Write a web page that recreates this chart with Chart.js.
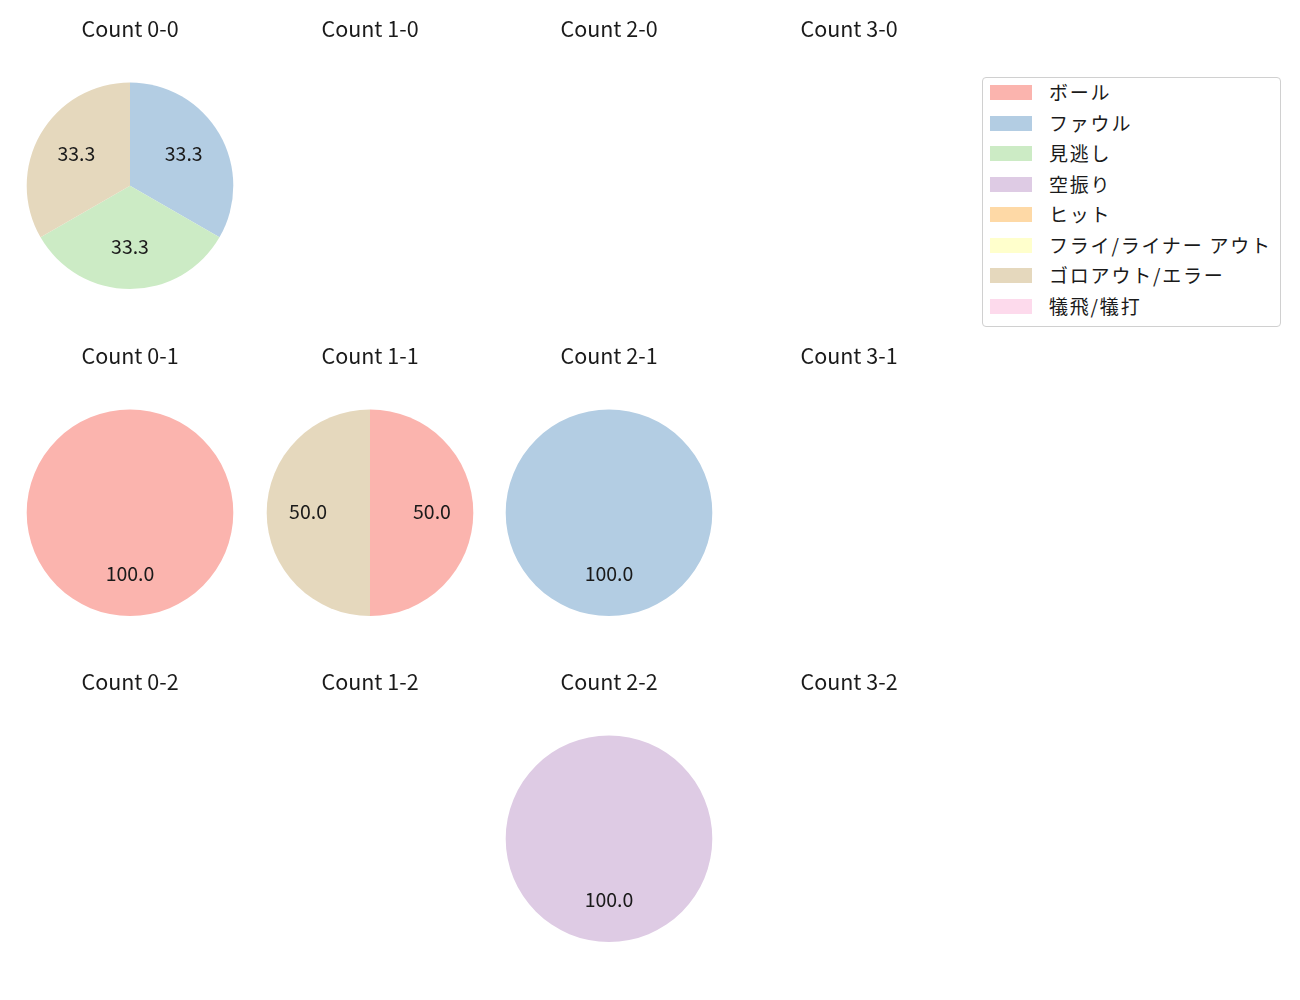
<!DOCTYPE html>
<html><head><meta charset="utf-8">
<script src="https://cdn.jsdelivr.net/npm/chart.js@4"></script>
<style>
body{margin:0;background:#fff;width:1300px;height:1000px;position:relative;overflow:hidden;font-family:"Noto Sans CJK JP","Noto Sans",sans-serif;}
canvas{position:absolute;}
#legend{position:absolute;left:982px;top:77px;width:299px;height:250px;border:1px solid #d0d0d0;border-radius:4px;box-sizing:border-box;}
.row{position:absolute;left:0;height:30px;}
.sw{position:absolute;left:7px;width:42px;height:15px;}
.tx{position:absolute;left:66px;font-size:19px;letter-spacing:1.8px;white-space:nowrap;color:#1a1a1a;line-height:20px;}
</style></head><body>
<div id="legend"></div>
<script>
const categories = ["ボール","ファウル","見逃し","空振り","ヒット","フライ/ライナー アウト","ゴロアウト/エラー","犠飛/犠打"];
const colors = ["#fbb4ae","#b3cde3","#ccebc5","#decbe4","#fed9a6","#ffffcc","#e5d8bd","#fddaec"];
const countTitles = ["Count 0-0","Count 1-0","Count 2-0","Count 3-0","Count 0-1","Count 1-1","Count 2-1","Count 3-1","Count 0-2","Count 1-2","Count 2-2","Count 3-2"];
const count00 = [0,1,1,0,0,0,1,0];
const count10 = [0,0,0,0,0,0,0,0];
const count20 = [0,0,0,0,0,0,0,0];
const count30 = [0,0,0,0,0,0,0,0];
const count01 = [1,0,0,0,0,0,0,0];
const count11 = [1,0,0,0,0,0,1,0];
const count21 = [0,1,0,0,0,0,0,0];
const count31 = [0,0,0,0,0,0,0,0];
const count02 = [0,0,0,0,0,0,0,0];
const count12 = [0,0,0,0,0,0,0,0];
const count22 = [0,0,0,1,0,0,0,0];
const count32 = [0,0,0,0,0,0,0,0];
const allCounts = [count00,count10,count20,count30,count01,count11,count21,count31,count02,count12,count22,count32];

const FONT = '"Noto Sans CJK JP","Noto Sans",sans-serif';

const pctLabels = {
  id:'pctLabels',
  afterDatasetsDraw(chart){
    const ctx = chart.ctx;
    const meta = chart.getDatasetMeta(0);
    const data = chart.data.datasets[0].data;
    const total = data.reduce((a,b)=>a+b,0);
    if(!total) return;
    ctx.save();
    ctx.font = '19.5px ' + FONT;
    ctx.fillStyle = '#1a1a1a';
    ctx.textAlign = 'center';
    ctx.textBaseline = 'middle';
    meta.data.forEach((arc,i)=>{
      if(!data[i]) return;
      const p = arc.getProps(['x','y','startAngle','endAngle','outerRadius'],true);
      const mid = (p.startAngle+p.endAngle)/2;
      const r = p.outerRadius*0.6;
      ctx.fillText((data[i]/total*100).toFixed(1), p.x + Math.cos(mid)*r, p.y + Math.sin(mid)*r - 1.5);
    });
    ctx.restore();
  }
};

const TSIZE = 21.5, LH = 1.2;
const lineH = TSIZE*LH;
const colX = [130, 369.5, 609, 849];
const rowTitleY = [29, 355.5, 682];
allCounts.forEach((vals, idx)=>{
  const c = idx % 4, r = Math.floor(idx/4);
  const cv = document.createElement('canvas');
  const W = 240;
  const pb = 186 - 29 - 103.5 - lineH/2;
  const H = Math.round(lineH + pb + 207);
  cv.width = W; cv.height = H;
  cv.style.left = (colX[c] - W/2) + 'px';
  cv.style.top = (rowTitleY[r] - lineH/2) + 'px';
  cv.style.width = W + 'px';
  cv.style.height = H + 'px';
  document.body.appendChild(cv);
  new Chart(cv, {
    type:'pie',
    data:{labels:categories, datasets:[{data:vals, backgroundColor:colors, borderWidth:0, hoverOffset:0, offset:0}]},
    options:{
      responsive:false, animation:false, devicePixelRatio:1,
      layout:{padding:{left:16.5,right:16.5,top:0,bottom:0}},
      events:[],
      plugins:{
        legend:{display:false},
        tooltip:{enabled:false},
        title:{display:true,text:countTitles[idx],color:'#1a1a1a',font:{family:FONT,size:TSIZE,weight:'normal',lineHeight:LH},padding:{top:0,bottom:pb}}
      }
    },
    plugins:[pctLabels]
  });
});

const lg = document.getElementById('legend');
categories.forEach((name,i)=>{
  const row = document.createElement('div');
  row.className='row';
  row.style.top = (i*30.5) + 'px';
  row.innerHTML = '<div class="sw" style="top:7px;background:'+colors[i]+'"></div><div class="tx" style="top:4px">'+name+'</div>';
  lg.appendChild(row);
});
</script>
</body></html>
